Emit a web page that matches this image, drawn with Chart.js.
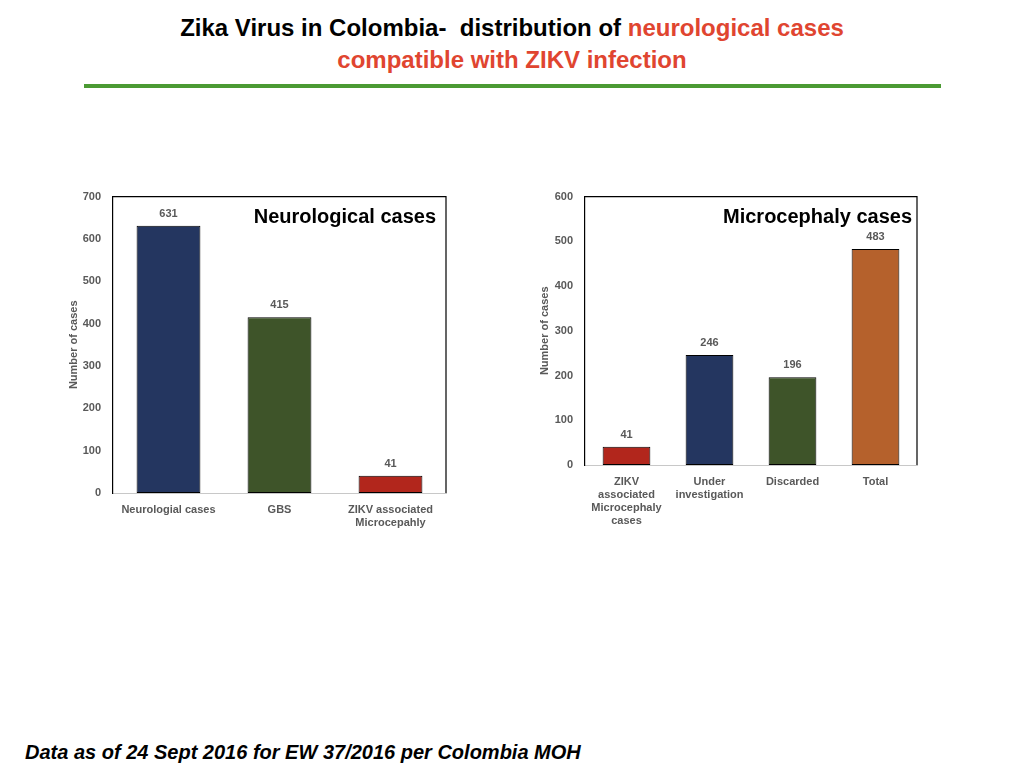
<!DOCTYPE html>
<html>
<head>
<meta charset="utf-8">
<script src="https://cdn.jsdelivr.net/npm/chart.js@4.4.1/dist/chart.umd.min.js"></script>
<style>
  html, body { margin: 0; padding: 0; background: #ffffff; }
  body { width: 1024px; height: 768px; position: relative; overflow: hidden; font-family: "Liberation Sans", Arial, sans-serif; }
  .title { position: absolute; left: 0; width: 1024px; text-align: center; font-weight: bold; font-size: 24px; color: #000; letter-spacing: 0; line-height: 28px; }
  .red { color: #e04530; }
  .rule { position: absolute; left: 84px; top: 84px; width: 857px; height: 4px; background: #4b9a33; }
  .footer { position: absolute; left: 25px; top: 739px; font-weight: bold; font-style: italic; font-size: 20px; color: #000; line-height: 26px; }
  .box { position: absolute; }
</style>
</head>
<body>
<div class="title" style="top:14px;">Zika Virus in Colombia‑ &nbsp;distribution of <span class="red">neurological cases</span></div>
<div class="title red" style="top:46px;">compatible with ZIKV infection</div>
<div class="rule"></div>

<div class="box" style="left:60px; top:178px; width:400px; height:372px;"><canvas id="c1"></canvas></div>
<div class="box" style="left:530px; top:178px; width:400px; height:372px;"><canvas id="c2"></canvas></div>

<div class="footer">Data as of 24 Sept 2016 for EW 37/2016 per Colombia MOH</div>

<script>
// ---- Data ----
const neuroLabels = ["Neurologial cases", "GBS", ["ZIKV associated", "Microcepahly"]];
const neuroValues = [631, 415, 41];
const neuroColors = ["#243660", "#3e5429", "#b2261c"];
const neuroTicks = { min: 0, max: 700, step: 100 };

const microLabels = [["ZIKV", "associated", "Microcephaly", "cases"], ["Under", "investigation"], "Discarded", "Total"];
const microValues = [41, 246, 196, 483];
const microColors = ["#b2261c", "#243660", "#3e5429", "#b5612c"];
const microTicks = { min: 0, max: 600, step: 100 };

const yTitle = "Number of cases";

const gray = "#595959";
const font = "'Liberation Sans', Arial, sans-serif";

const extrasPlugin = {
  id: 'extras',
  afterDatasetsDraw(chart, args, opts) {
    const ctx = chart.ctx;
    const a = chart.chartArea;
    ctx.save();
    ctx.strokeStyle = "#000";
    ctx.lineWidth = 1.2;
    ctx.beginPath();
    ctx.moveTo(a.left, a.top);
    ctx.lineTo(a.right, a.top);
    ctx.lineTo(a.right, a.bottom);
    ctx.stroke();
    const meta = chart.getDatasetMeta(0);
    ctx.fillStyle = gray;
    ctx.font = "bold 11px " + font;
    ctx.textAlign = "center";
    ctx.textBaseline = "middle";
    meta.data.forEach((bar, i) => {
      ctx.fillText(String(chart.data.datasets[0].data[i]), bar.x, bar.y - 12);
    });
    ctx.fillStyle = "#000";
    ctx.font = "bold 20px " + font;
    ctx.textAlign = "right";
    ctx.fillText(opts.text, a.right - opts.dx, a.top + 21);
    ctx.restore();
  }
};

function makeChart(id, labels, values, colors, ticks, cfg) {
  return new Chart(document.getElementById(id), {
    type: 'bar',
    data: {
      labels: labels,
      datasets: [{
        data: values,
        backgroundColor: colors,
        borderColor: "#000",
        borderWidth: 1,
        borderSkipped: false,
        categoryPercentage: 1,
        barPercentage: 0.575
      }]
    },
    options: {
      responsive: true,
      maintainAspectRatio: false,
      animation: false,
      layout: { padding: { top: 14, right: cfg.padRight, left: 0, bottom: 0 } },
      plugins: {
        legend: { display: false },
        tooltip: { enabled: false },
        extras: { text: cfg.innerTitle, dx: cfg.dx }
      },
      scales: {
        x: {
          grid: { display: false, drawTicks: false },
          border: { display: true, color: "#c8c8c8", width: 1 },
          ticks: { color: gray, font: { family: font, size: 11, weight: 'bold' }, padding: 10, maxRotation: 0, autoSkip: false },
          afterFit(s) { s.height = cfg.xHeight; }
        },
        y: {
          min: ticks.min, max: ticks.max,
          grid: { display: false, drawTicks: false },
          border: { display: true, color: "#000", width: 1.2 },
          ticks: { stepSize: ticks.step, color: gray, font: { family: font, size: 11, weight: 'bold' }, padding: 12 },
          title: { display: true, text: yTitle, color: gray, font: { family: font, size: 11, weight: 'bold' }, padding: { top: cfg.titlePad, bottom: 0 } },
          afterFit(s) { s.width = cfg.yWidth; }
        }
      }
    },
    plugins: [extrasPlugin]
  });
}

makeChart('c1', neuroLabels, neuroValues, neuroColors, neuroTicks,
  { innerTitle: "Neurological cases", dx: 10, padRight: 14, xHeight: 57, yWidth: 53, titlePad: 7 });
makeChart('c2', microLabels, microValues, microColors, microTicks,
  { innerTitle: "Microcephaly cases", dx: 5, padRight: 13, xHeight: 85, yWidth: 55, titlePad: 8 });
</script>
</body>
</html>
